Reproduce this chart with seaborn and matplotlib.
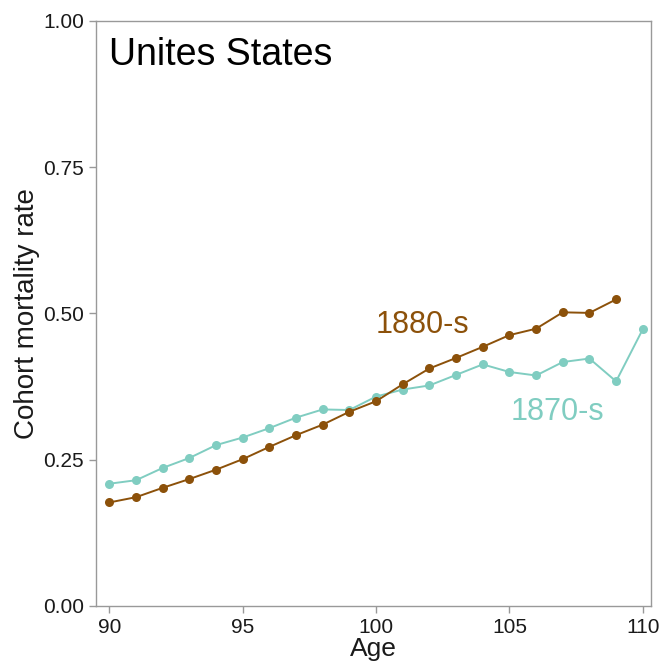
import numpy as np
import pandas as pd
import matplotlib
matplotlib.use('Agg')
import matplotlib.pyplot as plt
import seaborn as sbn

# Cohort mortality rates
ages_1870 = list(range(90, 111))
rate_1870 = [0.209, 0.215, 0.236, 0.253, 0.275, 0.288, 0.304, 0.322, 0.336, 0.335,
             0.358, 0.370, 0.377, 0.395, 0.413, 0.400, 0.394, 0.417, 0.423, 0.384, 0.473]
ages_1880 = list(range(90, 110))
rate_1880 = [0.177, 0.186, 0.202, 0.217, 0.233, 0.251, 0.272, 0.292, 0.310, 0.332,
             0.350, 0.379, 0.406, 0.424, 0.443, 0.463, 0.474, 0.502, 0.501, 0.524]
cohorts = ['1870-s', '1880-s']
cohort_colors = {'1870-s': '#80CDC1', '1880-s': '#8C510A'}

df = pd.concat([
    pd.DataFrame({'age': ages_1870, 'rate': rate_1870, 'cohort': '1870-s'}),
    pd.DataFrame({'age': ages_1880, 'rate': rate_1880, 'cohort': '1880-s'}),
])

sbn.set_style('white')
plt.rcParams['font.family'] = ['Liberation Sans', 'DejaVu Sans']

fig = plt.figure(figsize=(6.6, 6.66), dpi=100)
ax = fig.add_axes([0.1455, 0.0901, 0.8405, 0.8784])

sbn.lineplot(data=df, x='age', y='rate', hue='cohort', hue_order=cohorts,
             palette=cohort_colors, marker='o', markersize=6.5, markeredgewidth=0,
             linewidth=1.4, legend=False, ax=ax)

ax.set_xlim(89.5, 110.3)
ax.set_ylim(0, 1)
ax.set_xticks([90, 95, 100, 105, 110])
ax.set_yticks([0, 0.25, 0.5, 0.75, 1.0])
ax.set_yticklabels(['0.00', '0.25', '0.50', '0.75', '1.00'])
ax.tick_params(axis='both', which='both', length=5, width=1, color='#999999',
               labelsize=15, labelcolor='#1a1a1a', direction='out',
               bottom=True, left=True)
for s in ax.spines.values():
    s.set_color('#999999')
    s.set_linewidth(1)

ax.set_xlabel('Age', fontsize=19, color='#1a1a1a', labelpad=0)
ax.set_ylabel('Cohort mortality rate', fontsize=20, color='#1a1a1a', labelpad=2)

ax.text(90, 0.972, 'Unites States', fontsize=27, color='black', va='top', ha='left')
ax.text(100, 0.48, '1880-s', fontsize=22, color=cohort_colors['1880-s'], va='center', ha='left')
ax.text(106.8, 0.331, '1870-s', fontsize=22, color=cohort_colors['1870-s'], va='center', ha='center')

fig.savefig('out.png', dpi=100)
